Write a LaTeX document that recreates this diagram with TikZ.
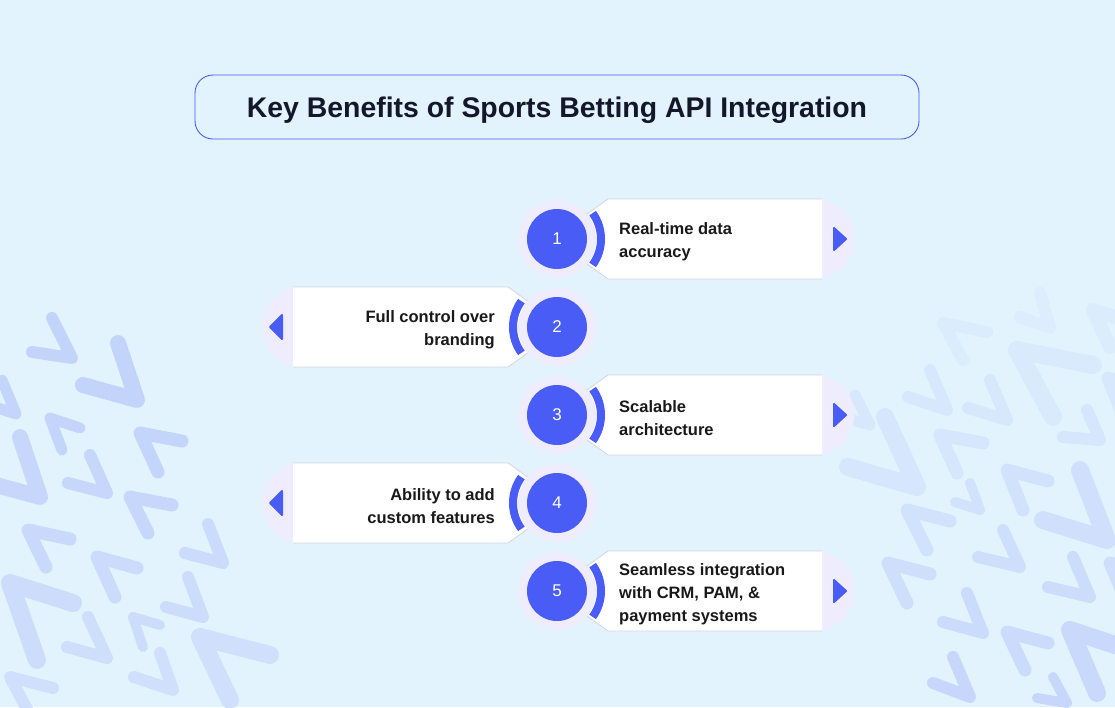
\documentclass[tikz,border=0pt]{standalone}
\usepackage{fontspec}
\setmainfont{Liberation Sans}
\definecolor{bgc}{HTML}{E2F3FE}
\definecolor{lav}{HTML}{EEECFD}
\definecolor{blu}{HTML}{4A5CF6}
\definecolor{ink}{HTML}{14172A}
\definecolor{rim}{HTML}{D3D7DE}
\definecolor{chv}{HTML}{BDCEFA}

\begin{document}
\begin{tikzpicture}[x=1pt, y=-1pt,
    heading/.style={draw=blu, line width=0.9pt, rounded corners=18pt, minimum width=724pt,
      minimum height=64pt, text height=20.3pt, text depth=0pt, text=ink,
      font=\bfseries\fontsize{28.4}{30}\selectfont},
    tab/.style={fill=lav},
    card/.style={fill=white, draw=rim, line width=0.8pt},
    tip/.style={fill=blu, draw=blu, line width=2pt, line join=round},
    ring/.style={draw=blu, line width=8pt},
    halo/.style={circle, fill=lav, minimum size=78pt, inner sep=0pt},
    num/.style={circle, fill=blu, text=white, minimum size=60pt, inner sep=0pt,
      font=\fontsize{17}{17}\selectfont},
    lbl/.style={text=black!90, inner sep=0pt, font=\bfseries\fontsize{16.5}{23}\selectfont}]

  \useasboundingbox (0,0) rectangle (1115,707);
  \fill[bgc] (0,0) rectangle (1115,707);

  % faint chevrons behind everything
  \begin{scope}
    \clip (0,0) rectangle (1115,707);
    \foreach \vx/\vy/\ax/\ay/\bx/\by/\w/\o in {
        72/358/52/318/32/352/12/85, 137/400/118/343/83/385/16/85,
        16/414/2/380/-20/402/11/80, 50/418/80/428/62/450/11/80,
        140/433/182/441/158/472/13/80, 40/497/20/437/-15/482/16/75,
        107/493/90/455/68/483/12/75, 130/497/172/505/148/533/13/75,
        28/530/70/539/46/567/13/70, 223/563/208/524/185/553/12/65,
        97/557/137/568/115/597/13/65, 10/583/73/603/37/660/18/60,
        203/617/188/577/166/607/12/60, 133/617/160/625/143/647/10/60,
        107/658/88/617/67/647/12/55, 173/690/160/653/134/677/12/50,
        200/637/270/655/230/700/18/50, 10/677/53/688/30/715/12/50,
        943/323/987/332/963/360/12/20, 1050/328/1040/293/1020/317/12/15,
        1093/310/1125/320/1110/347/14/20, 947/410/930/370/908/397/12/30,
        1007/420/990/380/968/408/12/30, 1017/350/1093/365/1053/417/18/25,
        870/425/855/395/835/415/11/30, 917/487/885/417/848/467/18/35,
        940/435/983/443/957/473/13/35, 1100/440/1087/410/1063/437/12/35,
        1108/378/1150/390/1125/420/13/30, 980/510/970/483/955/502/10/45,
        1007/470/1048/481/1023/510/13/45, 1107/540/1080/470/1043/520/18/50,
        907/510/950/521/927/550/13/45, 1020/567/1003/530/978/557/12/55,
        888/563/930/574/907/603/13/55, 1090/597/1073/557/1048/587/12/60,
        1110/563/1150/575/1128/605/13/55, 983/633/967/593/943/622/12/65,
        1007/632/1048/643/1025/670/13/65, 1070/630/1130/650/1097/693/18/70,
        970/697/953/657/933/683/12/75, 1067/703/1053/677/1037/698/10/75}
      \draw[chv!\o!bgc, line width=\w pt, line cap=round, line join=round]
        (\ax,\ay) -- (\vx,\vy) -- (\bx,\by);
  \end{scope}

  \node[heading] (head) at (557,107) {Key Benefits of Sports Betting API Integration};

  % cards pointing right
  \fill[tab] (814,239) circle[radius=40];
  \draw[card] (822,199) -- (608,199) -- (552,239) -- (608,279) -- (822,279);
  \filldraw[tip] (834,228) -- (834,250) -- (846,239) -- cycle;
  \fill[tab] (814,415) circle[radius=40];
  \draw[card] (822,375) -- (608,375) -- (552,415) -- (608,455) -- (822,455);
  \filldraw[tip] (834,404) -- (834,426) -- (846,415) -- cycle;
  \fill[tab] (814,591) circle[radius=40];
  \draw[card] (822,551) -- (608,551) -- (552,591) -- (608,631) -- (822,631);
  \filldraw[tip] (834,580) -- (834,602) -- (846,591) -- cycle;

  % cards pointing left
  \fill[tab] (302,327) circle[radius=40];
  \draw[card] (293,287) -- (508,287) -- (564,327) -- (508,367) -- (293,367);
  \filldraw[tip] (282,315) -- (282,339) -- (270,327) -- cycle;
  \fill[tab] (302,503) circle[radius=40];
  \draw[card] (293,463) -- (508,463) -- (564,503) -- (508,543) -- (293,543);
  \filldraw[tip] (282,491) -- (282,515) -- (270,503) -- cycle;

  % numbered discs
  \node[halo] (h1) at (557,239) {};
  \draw[ring] (h1.center) ++(-36:44) arc[start angle=-36, end angle=36, radius=44];
  \node[num] (n1) at (h1) {1};
  \node[halo] (h2) at (557,327) {};
  \draw[ring] (h2.center) ++(144:44) arc[start angle=144, end angle=216, radius=44];
  \node[num] (n2) at (h2) {2};
  \node[halo] (h3) at (557,415) {};
  \draw[ring] (h3.center) ++(-36:44) arc[start angle=-36, end angle=36, radius=44];
  \node[num] (n3) at (h3) {3};
  \node[halo] (h4) at (557,503) {};
  \draw[ring] (h4.center) ++(144:44) arc[start angle=144, end angle=216, radius=44];
  \node[num] (n4) at (h4) {4};
  \node[halo] (h5) at (557,591) {};
  \draw[ring] (h5.center) ++(-36:44) arc[start angle=-36, end angle=36, radius=44];
  \node[num] (n5) at (h5) {5};

  % texts
  \node[lbl, anchor=west, align=left] (t1) at (619,242) {Real-time data\\accuracy};
  \node[lbl, anchor=east, align=right] (t2) at (495,330) {Full control over\\branding};
  \node[lbl, anchor=west, align=left] (t3) at (619,418) {Scalable\\architecture};
  \node[lbl, anchor=east, align=right] (t4) at (495,506) {Ability to add\\custom features};
  \node[lbl, anchor=west, align=left] (t5) at (619,594) {Seamless integration\\with CRM, PAM, \&\\payment systems};
\end{tikzpicture}
\end{document}
